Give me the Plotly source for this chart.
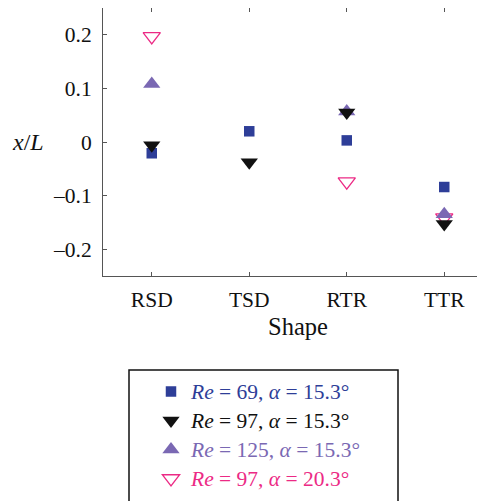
import plotly.graph_objects as go

shapes = ["RSD", "TSD", "RTR", "TTR"]
xi = [0, 1, 2, 3]

re69_a153 = [-0.021, 0.020, 0.003, -0.084]
re97_a153 = [-0.006, -0.038, 0.055, -0.153]
re125_a153 = [0.108, None, 0.057, -0.135]
re97_a203 = [0.197, None, -0.074, -0.141]

def lab(color, re, al):
    return (f"<span style='color:{color};font-size:21.5px'><i>Re</i> = {re}, "
            f"<i>α</i> = {al}°</span>")

names = [
    lab("#2E3E98", 69, "15.3"),
    lab("#111111", 97, "15.3"),
    lab("#7A68B3", 125, "15.3"),
    lab("#EC2A85", 97, "20.3"),
]

FONT = "Liberation Serif"

fig = go.Figure()
fig.add_trace(go.Scatter(x=xi, y=re97_a203, mode="markers", name=names[3], legendrank=4, legendgroup="d",
                         marker=dict(symbol="triangle-down-open", size=15, color="#EC2A85", line=dict(width=1.3, color="#EC2A85"))))
fig.add_trace(go.Scatter(x=xi, y=re125_a153, mode="markers", name=names[2], legendrank=3, legendgroup="c",
                         marker=dict(symbol="triangle-up", size=15, color="#7A68B3", line=dict(width=0))))
fig.add_trace(go.Scatter(x=xi, y=re69_a153, mode="markers", name=names[0], legendrank=1, legendgroup="a",
                         marker=dict(symbol="square", size=10.5, color="#2E3E98", line=dict(width=0))))
fig.add_trace(go.Scatter(x=xi, y=re97_a153, mode="markers", name=names[1], legendrank=2, legendgroup="b",
                         marker=dict(symbol="triangle-down", size=15, color="#111111", line=dict(width=0))))

# page body has an 8px margin; layout below is expressed in screen pixels
OFF = 8
W, H = 485, 501
L, R, T, B = 103 - OFF, 0, 8 - OFF, H - (276 - OFF)
pw = W - L - R
ph = H - T - B

def px_x(p):
    return (p - OFF - L) / pw

def px_y(p):
    return 1 - (p - OFF - T) / ph

fig.update_layout(
    width=W, height=H,
    margin=dict(l=L, r=R, t=T, b=B, autoexpand=False),
    plot_bgcolor="white", paper_bgcolor="white",
    font=dict(family=FONT, size=21, color="#111111"),
    showlegend=True,
    legend=dict(
        x=px_x(151), y=px_y(372), xanchor="left", yanchor="top",
        bgcolor="rgba(0,0,0,0)", borderwidth=0,
        font=dict(family=FONT, size=20),
        traceorder="normal",
    ),
    xaxis=dict(
        range=[-0.5, 3.5],
        tickmode="array", tickvals=xi, ticktext=shapes,
        ticks="inside", ticklen=4, tickcolor="#555555",
        showline=True, linecolor="#555555", linewidth=1, mirror="ticks",
        showgrid=False, zeroline=False,
        tickfont=dict(family=FONT, size=21.5),
        ticklabelstandoff=4,
    ),
    yaxis=dict(
        range=[-0.25, 0.25],
        tickmode="array", tickvals=[-0.2, -0.1, 0, 0.1, 0.2],
        ticktext=["–0.2", "–0.1", "0", "0.1", "0.2"],
        ticks="inside", ticklen=4, tickcolor="#555555",
        showline=True, linecolor="#555555", linewidth=1,
        showgrid=False, zeroline=False,
        tickfont=dict(family=FONT, size=21.5),
        ticklabelstandoff=6,
    ),
    shapes=[dict(type="rect", xref="paper", yref="paper",
                 x0=px_x(129), x1=px_x(398), y0=px_y(540), y1=px_y(370),
                 line=dict(color="#111111", width=1.5), fillcolor="rgba(0,0,0,0)")],
    annotations=[
        dict(text="Shape", xref="paper", yref="paper", x=px_x(297.5), y=px_y(326),
             showarrow=False, font=dict(family=FONT, size=24.5), xanchor="center", yanchor="middle"),
        dict(text="<i>x</i>/<i>L</i>", xref="paper", yref="paper", x=px_x(27.5), y=px_y(142),
             showarrow=False, font=dict(family=FONT, size=24), xanchor="center", yanchor="middle"),
    ],
)

fig.write_html("out.html")
